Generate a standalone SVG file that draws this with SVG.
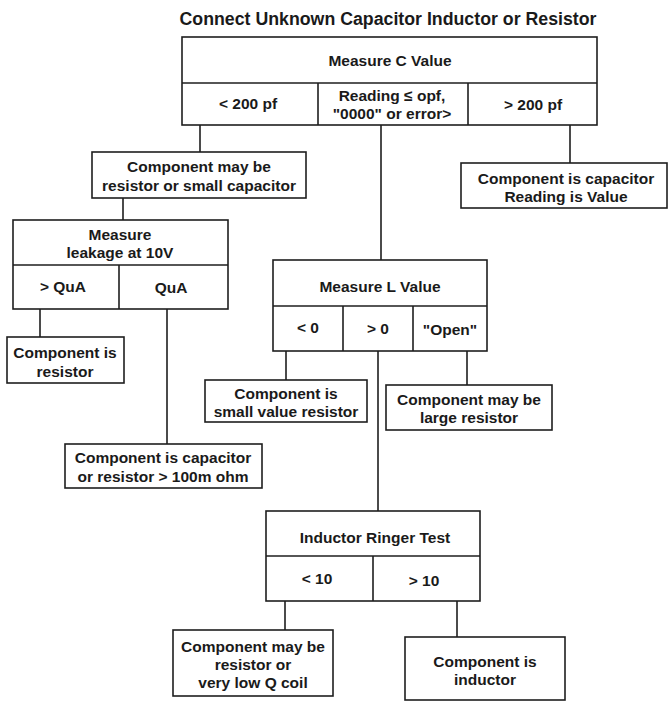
<svg xmlns="http://www.w3.org/2000/svg" width="672" height="703" viewBox="0 0 672 703">
<style>
.bx{fill:#fff;stroke:#1e1e1e;stroke-width:1.6}
.ln{stroke:#1e1e1e;stroke-width:1.6;fill:none}
text{font-family:"Liberation Sans",Arial,sans-serif;font-weight:bold;font-size:15.5px;fill:#1a1a1a;text-anchor:middle}
.title{font-size:17.5px}
</style>
<rect width="672" height="703" fill="#fff"/>
<text class="title" x="388" y="25" textLength="417" lengthAdjust="spacingAndGlyphs">Connect Unknown Capacitor Inductor or Resistor</text>

<g id="connectors">
<line class="ln" x1="200" y1="125" x2="200" y2="152"/>
<line class="ln" x1="381" y1="125" x2="381" y2="260"/>
<line class="ln" x1="570" y1="125" x2="570" y2="163"/>
<line class="ln" x1="123" y1="198" x2="123" y2="220"/>
<line class="ln" x1="40" y1="309" x2="40" y2="337"/>
<line class="ln" x1="167" y1="309" x2="167" y2="444"/>
<line class="ln" x1="286" y1="351" x2="286" y2="380"/>
<line class="ln" x1="378" y1="351" x2="378" y2="511"/>
<line class="ln" x1="467" y1="351" x2="467" y2="385"/>
<line class="ln" x1="285" y1="601" x2="285" y2="630"/>
<line class="ln" x1="457" y1="601" x2="457" y2="637"/>
</g>

<g id="measureC">
<rect class="bx" x="182" y="37" width="415" height="88"/>
<line class="ln" x1="182" y1="83" x2="597" y2="83"/>
<line class="ln" x1="318" y1="83" x2="318" y2="125"/>
<line class="ln" x1="468" y1="83" x2="468" y2="125"/>
<text x="390" y="66">Measure C Value</text>
<text x="248" y="109">&lt; 200 pf</text>
<text x="392" y="101">Reading ≤ opf,</text>
<text x="392" y="119">"0000" or error&gt;</text>
<text x="533" y="110">&gt; 200 pf</text>
</g>

<g id="maySmallCap">
<rect class="bx" x="92" y="152" width="214" height="46"/>
<text x="199" y="172">Component may be</text>
<text x="199" y="191">resistor or small capacitor</text>
</g>

<g id="isCapacitor">
<rect class="bx" x="461" y="163" width="206" height="45"/>
<text x="566" y="184">Component is capacitor</text>
<text x="566" y="202">Reading is Value</text>
</g>

<g id="measureLeakage">
<rect class="bx" x="13" y="220" width="215" height="89"/>
<line class="ln" x1="13" y1="265" x2="228" y2="265"/>
<line class="ln" x1="119" y1="265" x2="119" y2="309"/>
<text x="120" y="240">Measure</text>
<text x="120" y="258">leakage at 10V</text>
<text x="63" y="292">&gt; QuA</text>
<text x="171" y="293">QuA</text>
</g>

<g id="isResistor">
<rect class="bx" x="7" y="337" width="117" height="46"/>
<text x="65" y="358">Component is</text>
<text x="65" y="377">resistor</text>
</g>

<g id="capOrBigResistor">
<rect class="bx" x="65" y="444" width="197" height="44"/>
<text x="163" y="463">Component is capacitor</text>
<text x="163" y="482">or resistor &gt; 100m ohm</text>
</g>

<g id="measureL">
<rect class="bx" x="273" y="260" width="214" height="91"/>
<line class="ln" x1="273" y1="306" x2="487" y2="306"/>
<line class="ln" x1="343" y1="306" x2="343" y2="351"/>
<line class="ln" x1="413" y1="306" x2="413" y2="351"/>
<text x="380" y="292">Measure L Value</text>
<text x="308" y="333">&lt; 0</text>
<text x="378" y="334">&gt; 0</text>
<text x="450" y="335">"Open"</text>
</g>

<g id="smallValueResistor">
<rect class="bx" x="205" y="380" width="162" height="42"/>
<text x="286" y="399">Component is</text>
<text x="286" y="417">small value resistor</text>
</g>

<g id="largeResistor">
<rect class="bx" x="386" y="385" width="166" height="45"/>
<text x="469" y="405">Component may be</text>
<text x="469" y="423">large resistor</text>
</g>

<g id="ringerTest">
<rect class="bx" x="266" y="511" width="214" height="90"/>
<line class="ln" x1="266" y1="556" x2="480" y2="556"/>
<line class="ln" x1="373" y1="556" x2="373" y2="601"/>
<text x="375" y="543">Inductor Ringer Test</text>
<text x="317" y="584">&lt; 10</text>
<text x="424" y="586">&gt; 10</text>
</g>

<g id="lowQCoil">
<rect class="bx" x="173" y="630" width="160" height="66"/>
<text x="253" y="652">Component may be</text>
<text x="253" y="670">resistor or</text>
<text x="253" y="688">very low Q coil</text>
</g>

<g id="isInductor">
<rect class="bx" x="405" y="637" width="160" height="63"/>
<text x="485" y="667">Component is</text>
<text x="485" y="685">inductor</text>
</g>
</svg>
